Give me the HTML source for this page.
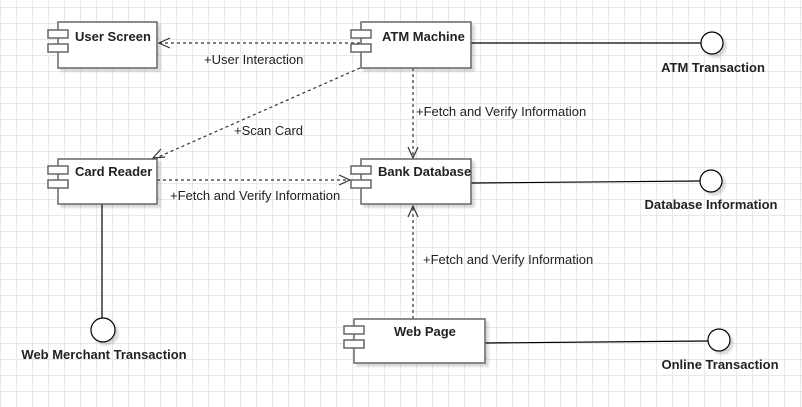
<!DOCTYPE html>
<html><head><style>
html,body{margin:0;padding:0}
body{width:802px;height:407px;overflow:hidden;background-color:#fff;
background-image:linear-gradient(#e8e8e8 1px,transparent 1px),linear-gradient(90deg,#e8e8e8 1px,transparent 1px);
background-size:16px 16px;background-position:0 7px;}
svg{position:absolute;left:0;top:0}
text{font-family:"Liberation Sans",sans-serif;font-size:13px;fill:#222}
.b{font-weight:bold}
</style></head><body>
<svg width="802" height="407" viewBox="0 0 802 407">
<defs>
<filter id="sh" x="-10%" y="-10%" width="130%" height="130%"><feOffset dx="3" dy="3"/><feGaussianBlur stdDeviation="1"/><feColorMatrix values="0 0 0 0 0 0 0 0 0 0 0 0 0 0 0 0 0 0 0.15 0"/><feMerge><feMergeNode/><feMergeNode in="SourceGraphic"/></feMerge></filter>
</defs>
<g stroke="#000" stroke-width="1.2" fill="none">
<line x1="471" y1="43" x2="701" y2="43"/>
<line x1="471" y1="183" x2="700" y2="181"/>
<line x1="485" y1="343" x2="708" y2="341"/>
<line x1="102" y1="204" x2="102" y2="318"/>
</g>
<g stroke="#333" stroke-width="1.2" fill="none" stroke-dasharray="3,3">
<line x1="360" y1="43" x2="159" y2="43"/>
<line x1="360" y1="68" x2="156" y2="158"/>
<line x1="413" y1="68" x2="413" y2="158"/>
<line x1="157" y1="180" x2="350" y2="180"/>
<line x1="413" y1="319" x2="413" y2="206"/>
</g>
<g stroke="#333" stroke-width="1.2" fill="none">
<polyline points="170,38 159,43 170,48"/>
<polyline points="339,175 350,180 339,185"/>
<polyline points="408,147 413,158 418,147"/>
<polyline points="408,217 413,206 418,217"/>
<polyline points="161,149 153,158 165,157"/>
</g>
<g filter="url(#sh)" stroke="#666" stroke-width="1.5" fill="#fff">
<rect x="58" y="22" width="99" height="46"/>
<rect x="361" y="22" width="110" height="46"/>
<rect x="58" y="159" width="99" height="45"/>
<rect x="361" y="159" width="110" height="45"/>
<rect x="354" y="319" width="131" height="44"/>
</g>
<g stroke="#666" stroke-width="1.5" fill="#fff">
<rect x="48" y="30" width="20" height="8"/><rect x="48" y="44" width="20" height="8"/>
<rect x="351" y="30" width="20" height="8"/><rect x="351" y="44" width="20" height="8"/>
<rect x="48" y="166" width="20" height="8"/><rect x="48" y="180" width="20" height="8"/>
<rect x="351" y="166" width="20" height="8"/><rect x="351" y="180" width="20" height="8"/>
<rect x="344" y="326" width="20" height="8"/><rect x="344" y="340" width="20" height="8"/>
</g>
<g filter="url(#sh)" stroke="#000" stroke-width="1.2" fill="#fff">
<circle cx="712" cy="43" r="11"/>
<circle cx="711" cy="181" r="11"/>
<circle cx="719" cy="340" r="11"/>
<circle cx="103" cy="330" r="12"/>
</g>
<text class="b" x="75" y="41">User Screen</text>
<text class="b" x="382" y="41">ATM Machine</text>
<text class="b" x="75" y="176">Card Reader</text>
<text class="b" x="378" y="176">Bank Database</text>
<text class="b" x="394" y="336">Web Page</text>
<text class="b" x="713" y="72" text-anchor="middle">ATM Transaction</text>
<text class="b" x="711" y="209" text-anchor="middle">Database Information</text>
<text class="b" x="720" y="369" text-anchor="middle">Online Transaction</text>
<text class="b" x="104" y="359" text-anchor="middle">Web Merchant Transaction</text>
<text x="204" y="64">+User Interaction</text>
<text x="234" y="135">+Scan Card</text>
<text x="416" y="116">+Fetch and Verify Information</text>
<text x="170" y="200">+Fetch and Verify Information</text>
<text x="423" y="264">+Fetch and Verify Information</text>
</svg>
</body></html>
